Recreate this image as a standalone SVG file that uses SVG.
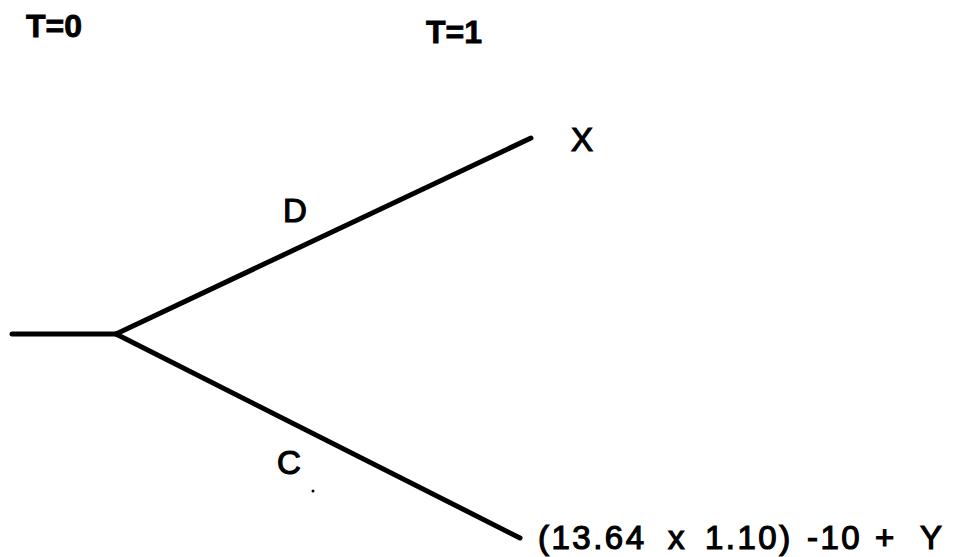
<svg xmlns="http://www.w3.org/2000/svg" width="958" height="557" viewBox="0 0 958 557">
<style>
.bg{fill:#ffffff}
.edge{stroke:#000;stroke-width:5;stroke-linecap:round;fill:none}
.hdr{font-family:"Liberation Sans",Arial,sans-serif;font-weight:bold;font-size:32px;fill:#000;stroke:#000;stroke-width:0.8}
.lbl{font-family:"Liberation Sans",Arial,sans-serif;font-size:33px;fill:#000;stroke:#000;stroke-width:1.2}
</style>
<rect class="bg" x="0" y="0" width="958" height="557"/>
<g id="connectors">
<line class="edge" x1="12" y1="334" x2="116" y2="334"/>
<line class="edge" x1="116" y1="334" x2="531" y2="138"/>
<line class="edge" x1="116" y1="334" x2="520" y2="538"/>
</g>
<circle cx="313" cy="491" r="1.5" fill="#000"/>
<g id="header-t0"><text class="hdr" x="26" y="37">T=0</text></g>
<g id="header-t1"><text class="hdr" x="426" y="43">T=1</text></g>
<g id="node-x"><text class="lbl" x="571" y="151">X</text></g>
<g id="label-d"><text class="lbl" x="283" y="222">D</text></g>
<g id="label-c"><text class="lbl" x="277" y="474">C</text></g>
<g id="node-result"><text class="lbl" y="549" letter-spacing="2.5"><tspan x="538">(13.64</tspan><tspan x="668">x</tspan><tspan x="705">1.10)</tspan><tspan x="807">-10</tspan><tspan x="875">+</tspan><tspan x="920">Y</tspan></text></g>
</svg>
